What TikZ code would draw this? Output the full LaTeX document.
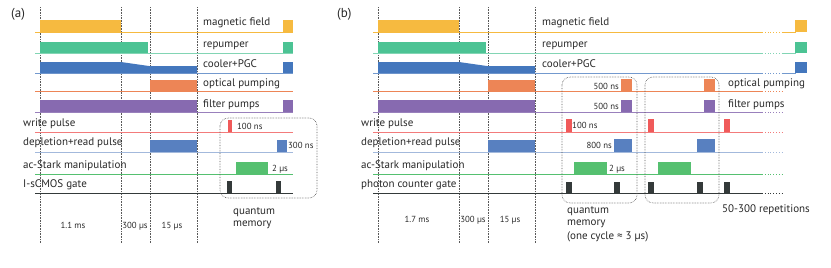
\documentclass[tikz,border=0pt]{standalone}
\usepackage{fontspec}
\setmainfont{PT Sans}
\usepackage{xcolor}
\usepackage{tikz}
\usetikzlibrary{positioning}
\definecolor{MagOrange}{RGB}{246,186,64}
\definecolor{RepGreen}{RGB}{76,195,148}
\definecolor{CoolBlue}{RGB}{68,119,189}
\definecolor{PumpOrange}{RGB}{237,133,86}
\definecolor{FiltPurple}{RGB}{135,106,176}
\definecolor{WriteRed}{RGB}{240,90,90}
\definecolor{ReadBlue}{RGB}{88,128,192}
\definecolor{StarkGreen}{RGB}{85,192,112}
\definecolor{GateGrey}{RGB}{52,58,58}
\definecolor{TextGrey}{RGB}{40,40,40}

\begin{document}
\begin{tikzpicture}[x=1pt, y=-1pt,
    sig/.style={line width=0.8pt},
    tick/.style={draw=gray!70!black, densely dotted, line width=0.6pt},
    qbox/.style={draw=gray!70!black, densely dotted, line width=0.6pt, rounded corners=8pt},
    lbl/.style={anchor=base west, inner sep=0pt, text=TextGrey, font=\fontsize{11}{12}\selectfont},
    dur/.style={anchor=base west, inner sep=0pt, text=TextGrey, font=\fontsize{8.8}{10}\selectfont}]
  \useasboundingbox (0,0) rectangle (831,268);

  \node[lbl, font=\fontsize{13}{14}\selectfont] (tag-a) at (11,17) {(a)};
  \node[lbl, font=\fontsize{13}{14}\selectfont] (tag-b) at (337,17) {(b)};

  \foreach \p/\dx/\xe/\tload/\tx/\ty/\gate in
      {a/0pt/293/1.1 ms/73/228/I-sCMOS gate, b/338pt/424/1.7 ms/79/222/photon counter gate} {
    \begin{scope}[xshift=\dx]
      \foreach \x in {40,121,150,197}
        \draw[tick] (\x,7) -- (\x,243);
      \foreach \yl/\cl in {32/MagOrange, 53/RepGreen!70, 73/CoolBlue!75, 91.5/PumpOrange,
                           112/FiltPurple!85, 132/WriteRed!80, 152/ReadBlue!55,
                           174/StarkGreen, 193/GateGrey}
        \draw[sig, \cl] (35,\yl) -- (\xe,\yl);
      \fill[MagOrange] (40,20) rectangle (121,32);
      \fill[RepGreen] (40,42) rectangle (148,53);
      \fill[CoolBlue] (40,73) -- (40,62) -- (121,62) -- (149,66) -- (197,66) -- (197,73) -- cycle;
      \fill[PumpOrange] (150,80) rectangle (197,91.5);
      \fill[FiltPurple] (40,100) rectangle (197,112);
      \fill[ReadBlue] (150,140) rectangle (197,152);
      \node[lbl] (write-\p) at (23,126) {write pulse};
      \node[lbl] (read-\p) at (23,145) {depletion+read pulse};
      \node[lbl] (stark-\p) at (23,168) {ac-Stark manipulation};
      \node[lbl] (gate-\p) at (23,187) {\gate};
      \node[dur, anchor=base] (load-\p) at (\tx,\ty) {\tload};
      \node[dur, anchor=base] (pgc-\p) at (135,\ty) {300 µs};
      \node[dur, anchor=base] (op-\p) at (172,\ty) {15 µs};
    \end{scope}
  }

  % (a)
  \node[lbl] (mag-a) at (203,25) {magnetic field};
  \node[lbl] (rep-a) at (203,47) {repumper};
  \node[lbl] (cool-a) at (203,67) {cooler+PGC};
  \node[lbl] (opt-a) at (203,86) {optical pumping};
  \node[lbl] (filt-a) at (203,107) {filter pumps};
  \fill[MagOrange] (283,20) rectangle (293,32);
  \fill[RepGreen] (283,42) rectangle (293,53);
  \fill[CoolBlue] (283,62) rectangle (293,73);
  \fill[FiltPurple] (283,100) rectangle (293,112);
  \fill[WriteRed] (228,120) rectangle (232,132);
  \fill[ReadBlue] (277,140) rectangle (287,152);
  \fill[StarkGreen] (236,162) rectangle (268,174);
  \fill[GateGrey] (227,181) rectangle (232,193);
  \fill[GateGrey] (276,181) rectangle (281,193);
  \node[dur] (tw-a) at (237,129) {100 ns};
  \node[dur] (tr-a) at (288,148) {300 ns};
  \node[dur] (ts-a) at (272,171) {2 µs};
  \draw[qbox] (220,118) rectangle (317,198);
  \node[lbl] (qm1-a) at (233,214) {quantum};
  \node[lbl] (qm2-a) at (233,226) {memory};

  % (b)
  \node[lbl] (mag-b) at (542,25) {magnetic field};
  \node[lbl] (rep-b) at (542,47) {repumper};
  \node[lbl] (cool-b) at (542,67) {cooler+PGC};
  \node[lbl] (opt-b) at (728,86) {optical pumping};
  \node[lbl] (filt-b) at (728,107) {filter pumps};
  \foreach \yl/\cl in {32/MagOrange, 53/RepGreen!70, 73/CoolBlue!75, 91.5/PumpOrange,
                       112/FiltPurple!85, 132/WriteRed!80, 152/ReadBlue!55,
                       174/StarkGreen, 193/GateGrey}
    \draw[sig, \cl, dotted] (762,\yl) -- (783,\yl);
  \foreach \yl/\cl in {32/MagOrange, 53/RepGreen!70, 73/CoolBlue!75}
    \draw[sig, \cl] (783,\yl) -- (796,\yl);
  \fill[MagOrange] (795,20) rectangle (807,32);
  \fill[RepGreen] (795,42) rectangle (807,53);
  \fill[CoolBlue] (795,62) rectangle (807,73);
  \foreach \x in {621,704} {
    \fill[PumpOrange] (\x,79) rectangle ++(11,12.5);
    \fill[FiltPurple] (\x,100) rectangle ++(11,12);
  }
  \foreach \x in {566,648,724}
    \fill[WriteRed] (\x,119) rectangle ++(5.5,13);
  \foreach \x in {614,697}
    \fill[ReadBlue] (\x,139) rectangle ++(18,13);
  \foreach \x in {574,658}
    \fill[StarkGreen] (\x,162) rectangle ++(33,12);
  \foreach \x in {566,614,648,697,724}
    \fill[GateGrey] (\x,182) rectangle ++(5.5,11);
  \node[dur, anchor=base east] (to1-b) at (619,89) {500 ns};
  \node[dur, anchor=base east] (tf1-b) at (619,109) {500 ns};
  \node[dur] (tw-b) at (572,128) {100 ns};
  \node[dur, anchor=base east] (tr-b) at (612,148) {800 ns};
  \node[dur] (ts-b) at (609,171) {2 µs};
  \draw[qbox] (562,77) rectangle (637,203);
  \draw[qbox] (645,77) rectangle (719,203);
  \node[lbl] (qm1-b) at (567,213) {quantum};
  \node[lbl] (qm2-b) at (567,225) {memory};
  \node[lbl] (qm3-b) at (567,239) {(one cycle ≈ 3 µs)};
  \node[lbl] (rep-n) at (722,212) {50-300 repetitions};
\end{tikzpicture}
\end{document}
